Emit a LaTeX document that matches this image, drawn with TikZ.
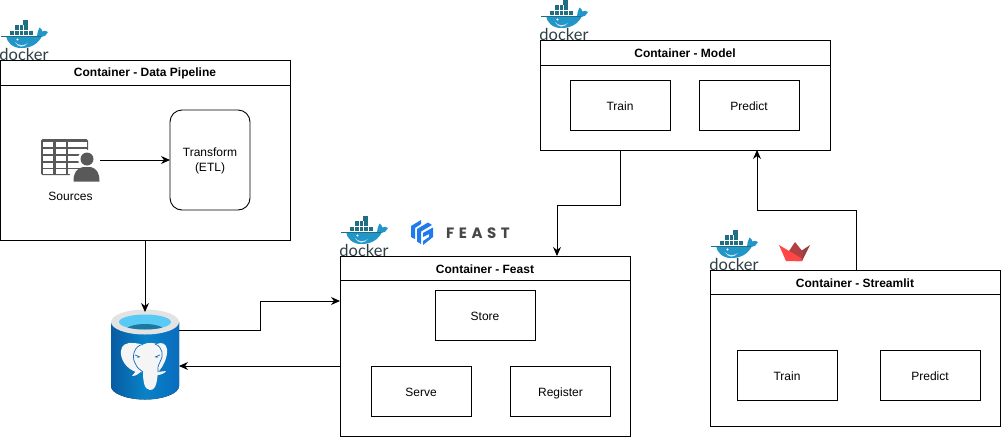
\documentclass[tikz,border=0pt]{standalone}
\usepackage{fontspec}
\setmainfont{Liberation Sans}
\newfontfamily\dockerfont{Lato}
\newfontfamily\feastfont[LetterSpace=30]{Poppins}
\usetikzlibrary{arrows.meta}
\definecolor{dockblue}{HTML}{2396C8}
\definecolor{dockdark}{HTML}{1F6E84}
\definecolor{docktext}{HTML}{2F3F45}
\definecolor{pgblue}{HTML}{0A6CBE}
\definecolor{iconGrey}{HTML}{595959}
\definecolor{feastblue}{HTML}{1F7AEC}
\tikzset{
  x=1pt,y=-1pt,
  box/.style={draw=black,line width=0.9pt,fill=white,inner sep=0pt,outer sep=0pt,font=\fontsize{12}{15}\selectfont,align=center,text depth=0pt},
  labelbox/.style={box,text height=11pt,minimum width=100pt,minimum height=50pt},
  titletext/.style={inner sep=0pt,font=\bfseries\fontsize{12}{14}\selectfont},
  label/.style={inner sep=0pt,font=\fontsize{12}{14}\selectfont},
  titlerule/.style={draw=black,line width=0.9pt},
  conn/.style={draw=black,line width=0.9pt,-{Stealth[length=9pt,width=8pt]}},
  dockerlogo/.pic={
    % local frame: 48 x 40 px, top left at the pic's origin
    \fill[dockdark] (10,10) rectangle (33,15);
    \fill[dockdark] (15,5) rectangle (28,10);
    \fill[dockdark] (23,0) rectangle (28,5);
    \foreach \gx in {14.5,19,23.5,28}{\draw[white,line width=0.3pt] (\gx,5) -- (\gx,15);}
    \draw[white,line width=0.3pt] (10,10) -- (33,10);
    \fill[dockblue] (6,16) -- (37,16) .. controls (37.5,13) and (38,10) .. (39.5,7.5)
      .. controls (41.5,9) and (42,10) .. (42.5,11.5) .. controls (44,10.5) and (46,10.5) .. (48,12)
      .. controls (47,15) and (44,17) .. (41.5,17) .. controls (37,25) and (30,28) .. (21,28)
      .. controls (12,28) and (7,22) .. (6,16) -- cycle;
    \draw[dockdark,line width=0.7pt] (1,16) -- (41,16);
    \fill[white,opacity=0.75] (15,22) .. controls (18,26) and (24,26) .. (28,23) .. controls (24,28) and (18,28) .. (15,22) -- cycle;
    \fill[white] (17.5,19.5) circle (1.2);
    \node[inner sep=0pt,text=docktext,font=\dockerfont\fontsize{16.5}{17}\selectfont] at (24,34) {docker};
  },
}
\begin{document}
\begin{tikzpicture}
\useasboundingbox (0,0) rectangle (1002,437);
% containers
\node[box,minimum width=290pt,minimum height=180pt] (pipeline) at (145,150) {};
\node[box,minimum width=290pt,minimum height=110pt] (model) at (685,95) {};
\node[box,minimum width=290pt,minimum height=180pt] (feast) at (485,346) {};
\node[box,minimum width=290pt,minimum height=156pt] (streamlit) at (855,348) {};
\draw[titlerule] (0,85) -- (290,85);
\draw[titlerule] (540,65) -- (830,65);
\draw[titlerule] (340,280) -- (630,280);
\draw[titlerule] (710,294) -- (1000,294);
\node[titletext] (tpipe) at (145,73) {Container - Data Pipeline};
\node[titletext] (tmodel) at (685,53) {Container - Model};
\node[titletext] (tfeast) at (485,269) {Container - Feast};
\node[titletext] (tstream) at (855,283) {Container - Streamlit};
% inner boxes
\node[box,rounded corners=12pt,minimum width=80pt,minimum height=100pt] (transform) at (210,160) {Transform\\(ETL)};
\node[labelbox] (mtrain) at (620,105) {Train};
\node[labelbox] (mpredict) at (749,105) {Predict};
\node[labelbox] (store) at (485,315) {Store};
\node[labelbox] (serve) at (421,391) {Serve};
\node[labelbox] (register) at (560.5,391) {Register};
\node[labelbox] (strain) at (787,375) {Train};
\node[labelbox] (spredict) at (930,375) {Predict};
% sources icon
\fill[iconGrey,rounded corners=1.5pt] (41,139) rectangle (88,175);
\foreach \cx in {43,55.5,67.5,77}{\foreach \cy in {141.5,148.5,155.5,162.5,169}{
  \fill[white] (\cx,\cy) rectangle ++(10,5);}}
\fill[white] (87,159) circle (9);
\fill[white,rounded corners=3pt] (70,170) rectangle (101,184);
\fill[iconGrey] (87,159) circle (6.5);
\fill[iconGrey] (73.5,181.5) .. controls (73.5,173) and (76,169) .. (83,167) -- (91,167)
  .. controls (97,169) and (99.5,173) .. (99.5,181.5) -- cycle;
\node[inner sep=0pt,minimum width=60pt,minimum height=44pt] (sourcesicon) at (70,160) {};
\node[label] (sources) at (70.5,196) {Sources};
% postgres cylinder
\node[inner sep=0pt,outer sep=0pt,minimum width=68pt,minimum height=88pt] (db) at (145,356) {};
\fill[left color=pgblue!85!black,right color=pgblue,middle color=pgblue!85!cyan]
  (111,322) -- (111,386) .. controls (111,394) and (128,399.5) .. (145,399.5)
  .. controls (162,399.5) and (179,394) .. (179,386) -- (179,322) -- cycle;
\fill[gray!22] (145,322) ellipse [x radius=34,y radius=12.5];
\fill[cyan!65!white] (145,322) ellipse [x radius=26,y radius=7.5];
\begin{scope}
  \clip (145,322) ellipse [x radius=26,y radius=7.5];
  \fill[dockblue!80!black] (145,331) ellipse [x radius=20,y radius=7];
\end{scope}
% elephant
\fill[white!96!black] (121,351) .. controls (121,345) and (127,342) .. (134,343)
  .. controls (138,343.5) and (141,344) .. (143,344.5) .. controls (148,342) and (154,343) .. (157,344)
  .. controls (161,342) and (166,343) .. (167,349) .. controls (168,357) and (163,367) .. (158,372)
  .. controls (157,379) and (157,390) .. (150,390) .. controls (144,390) and (143,380) .. (143,372)
  -- (136,372) .. controls (127,369) and (120,360) .. (121,351) -- cycle;
\fill[white!96!black] (132,376) .. controls (136,376) and (139,374) .. (141,371) -- (136,371) -- cycle;
\fill[white!96!black] (157,372) -- (166,371) .. controls (164,374) and (160,375) .. (157,375) -- cycle;
\draw[pgblue,line width=0.7pt] (143,344.5) .. controls (135,345) and (131,356) .. (135,363) .. controls (137,368) and (140,370) .. (143,372);
\draw[pgblue,line width=0.7pt] (155,344) .. controls (163,347) and (164,356) .. (160,362) .. controls (158,366) and (157,369) .. (158,372);
\draw[pgblue,line width=0.7pt] (135,355) -- (140,357) (155,357) -- (160,355);
\fill[pgblue] (138,357) circle (0.9);
\fill[pgblue] (157,357) circle (0.9);
% logos
\pic at (0,20) {dockerlogo};
\pic at (540,0) {dockerlogo};
\pic at (340,216) {dockerlogo};
\pic at (710,230) {dockerlogo};
% feast logo
\fill[feastblue] (411,226) -- (421,220) -- (421,224) -- (415,228) -- (415,239) -- (411,237) -- cycle;
\fill[feastblue] (417,229) -- (428,222.5) -- (432,225) -- (421,231.5) -- (421,244) -- (417,241.5) -- cycle;
\fill[feastblue] (423,233) -- (433,227.5) -- (433,237) -- (423,245) -- (423,241) -- (429,237) -- (429,234) -- (423,237) -- cycle;
\node[inner sep=0pt,text=black!72,anchor=west,font=\feastfont\bfseries\fontsize{15}{16}\selectfont] (feastlogo) at (446,233) {FEAST};
% streamlit logo
\fill[red!45!black!75!white] (810,245) -- (802,261) -- (795,261) -- (801,251) -- cycle;
\fill[red!60!black!75!white] (795,242) -- (803,252) -- (802,261) -- (795,258) -- (789,251) -- cycle;
\fill[red!72!white] (779,245) -- (801,258) -- (802,261) -- (786,261) -- cycle;
% connectors
\draw[conn] (sourcesicon.east |- transform.west) -- (transform.west);
\draw[conn] (pipeline.south) -- (db.north);
\draw[conn] ([yshift=26pt]db.east) -- (260,330) -- (260,301) -- ([yshift=45pt]feast.west);
\draw[conn] ([yshift=-20pt]feast.west) -- ([yshift=-10pt]db.east);
\draw[conn] ([xshift=-65pt]model.south) -- (620,205) -- (557,205) -- ([xshift=72pt]feast.north);
\draw[conn] ([xshift=1pt]streamlit.north) -- (856,210) -- (757,210) -- ([xshift=72pt]model.south);
\end{tikzpicture}
\end{document}
